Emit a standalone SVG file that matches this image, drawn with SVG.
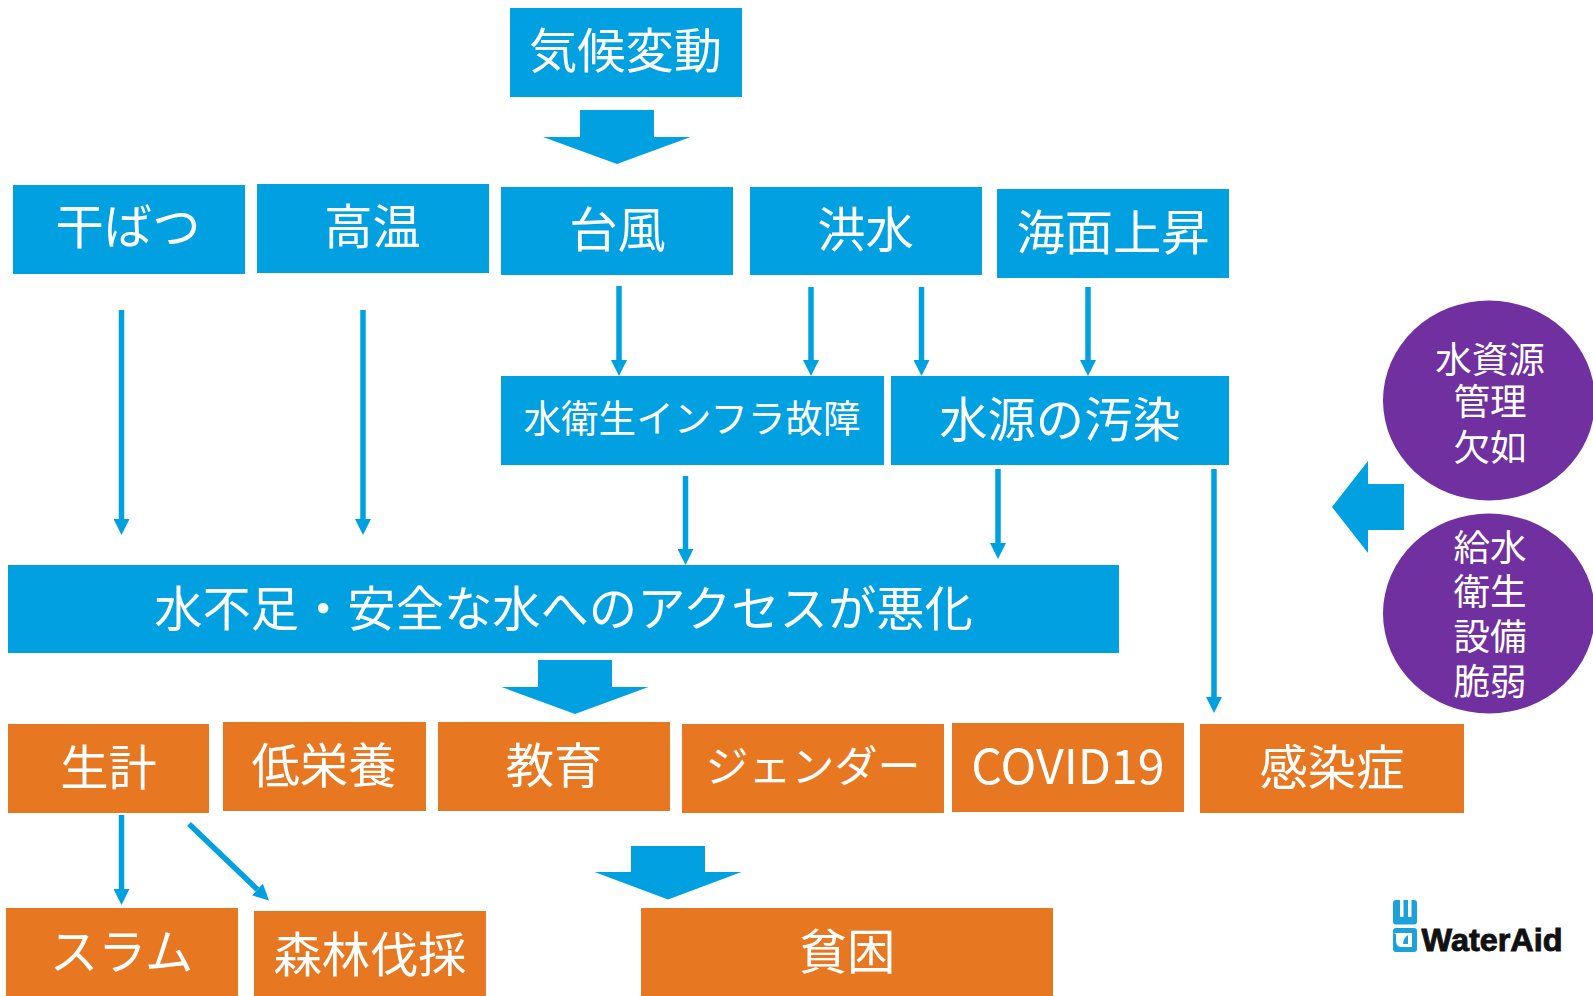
<svg xmlns="http://www.w3.org/2000/svg" width="1593" height="996" viewBox="0 0 1593 996">
<style>
.b{fill:#00a0e1}.o{fill:#e87722}.p{fill:#7030a0}
text{font-family:"Noto Sans CJK JP","Noto Sans",sans-serif;fill:#fff;text-anchor:middle;font-size:48.3px}
.s{font-size:37.6px}.m{font-size:36.6px}
.l{stroke:#00a0e1;stroke-width:5.5;fill:none;marker-end:url(#a)}
</style>
<defs><marker id="a" markerUnits="userSpaceOnUse" markerWidth="16" markerHeight="16" refX="0" refY="8" orient="auto"><path d="M0 0L16 8L0 16Z" fill="#00a0e1"/></marker></defs>
<rect width="1593" height="996" fill="#fff"/>
<g id="connectors">
<path class="l" d="M121.500 310V519"/>
<path class="l" d="M363 310V519"/>
<path class="l" d="M619 286V360"/>
<path class="l" d="M811 287V360"/>
<path class="l" d="M921.500 287V360"/>
<path class="l" d="M1088 287V360"/>
<path class="l" d="M685.500 476V549"/>
<path class="l" d="M998 469V543"/>
<path class="l" d="M1214 469V697"/>
<path class="l" d="M121.500 815V889"/>
<path class="l" d="M189 824L257.400 889.500"/>
<path id="big1" class="b" d="M580 110H654V137H690.500L617 164L543 137H580Z"/>
<path id="big2" class="b" d="M538 660H612V687H648.500L575 714L501.500 687H538Z"/>
<path id="big3" class="b" d="M631 846H705V872H741.500L668 899.500L594.500 872H631Z"/>
<path id="big4" class="b" d="M1404 484V530H1368V553L1332 507L1368 461V484Z"/>
</g>
<g id="n1"><rect class="b" x="510" y="8" width="232" height="89"/><text x="625.500" y="68">気候変動</text></g>
<g id="n2"><rect class="b" x="13" y="185" width="232" height="89"/><text x="128" y="244">干ばつ</text></g>
<g id="n3"><rect class="b" x="257" y="184" width="232" height="89"/><text x="372.500" y="244">高温</text></g>
<g id="n4"><rect class="b" x="501" y="187" width="232" height="88"/><text x="617.500" y="247">台風</text></g>
<g id="n5"><rect class="b" x="750" y="187" width="232" height="88"/><text x="865.500" y="247">洪水</text></g>
<g id="n6"><rect class="b" x="997" y="189" width="232" height="89"/><text x="1113" y="249.500">海面上昇</text></g>
<g id="n7"><rect class="b" x="501" y="376" width="383" height="89"/><text class="s" x="692" y="432">水衛生インフラ故障</text></g>
<g id="n8"><rect class="b" x="891" y="376" width="338" height="89"/><text x="1060" y="436.500">水源の汚染</text></g>
<g id="n9"><rect class="b" x="8" y="565" width="1111" height="88"/><text x="563.500" y="626">水不足・安全な水へのアクセスが悪化</text></g>
<g id="n10"><rect class="o" x="8" y="724" width="201" height="89"/><text x="108.500" y="784.500">生計</text></g>
<g id="n11"><rect class="o" x="223" y="722" width="203" height="89"/><text x="324" y="782.500">低栄養</text></g>
<g id="n12"><rect class="o" x="438" y="722" width="232" height="89"/><text x="554" y="782.500">教育</text></g>
<g id="n13"><rect class="o" x="682" y="724" width="262" height="89"/><text x="813" y="782" style="font-size:43px">ジェンダー</text></g>
<g id="n14"><rect class="o" x="952" y="723" width="232" height="89"/><text x="1068" y="784">COVID19</text></g>
<g id="n15"><rect class="o" x="1200" y="724" width="264" height="89"/><text x="1332" y="784.500">感染症</text></g>
<g id="n16"><rect class="o" x="6" y="908" width="232" height="88"/><text x="121.500" y="969">スラム</text></g>
<g id="n17"><rect class="o" x="254" y="911" width="232" height="85"/><text x="370" y="971.500">森林伐採</text></g>
<g id="n18"><rect class="o" x="641" y="908" width="412" height="88"/><text x="847" y="969">貧困</text></g>
<g id="n19"><ellipse class="p" cx="1489" cy="400.500" rx="106" ry="100"/><text class="m" x="1490" y="372.500">水資源</text><text class="m" x="1490" y="415">管理</text><text class="m" x="1490" y="461">欠如</text></g>
<g id="n20"><ellipse class="p" cx="1489" cy="613.500" rx="106" ry="100"/><text class="m" x="1490" y="561">給水</text><text class="m" x="1490" y="605">衛生</text><text class="m" x="1490" y="650">設備</text><text class="m" x="1490" y="695">脆弱</text></g>
<g id="logo">
<rect x="1393" y="900" width="24" height="24.500" rx="3" fill="#1ba1dc"/>
<rect x="1400" y="900" width="3.500" height="17" fill="#fff"/><rect x="1408" y="900" width="3.500" height="17" fill="#fff"/>
<rect x="1393" y="928" width="24" height="24" rx="3" fill="#1ba1dc"/>
<path d="M1393 933H1412V947H1401C1397 947 1396 943 1396 940C1396 936 1397 933 1393 933Z" fill="#fff"/>
<path d="M1408 935V944H1403C1403 940 1405 937 1408 935Z" fill="#1ba1dc"/>
<text x="1492" y="951" style="font-family:'Liberation Sans',sans-serif;font-weight:700;font-size:31.500px;fill:#111;stroke:#111;stroke-width:.9" textLength="141" lengthAdjust="spacingAndGlyphs">WaterAid</text>
</g>
</svg>
